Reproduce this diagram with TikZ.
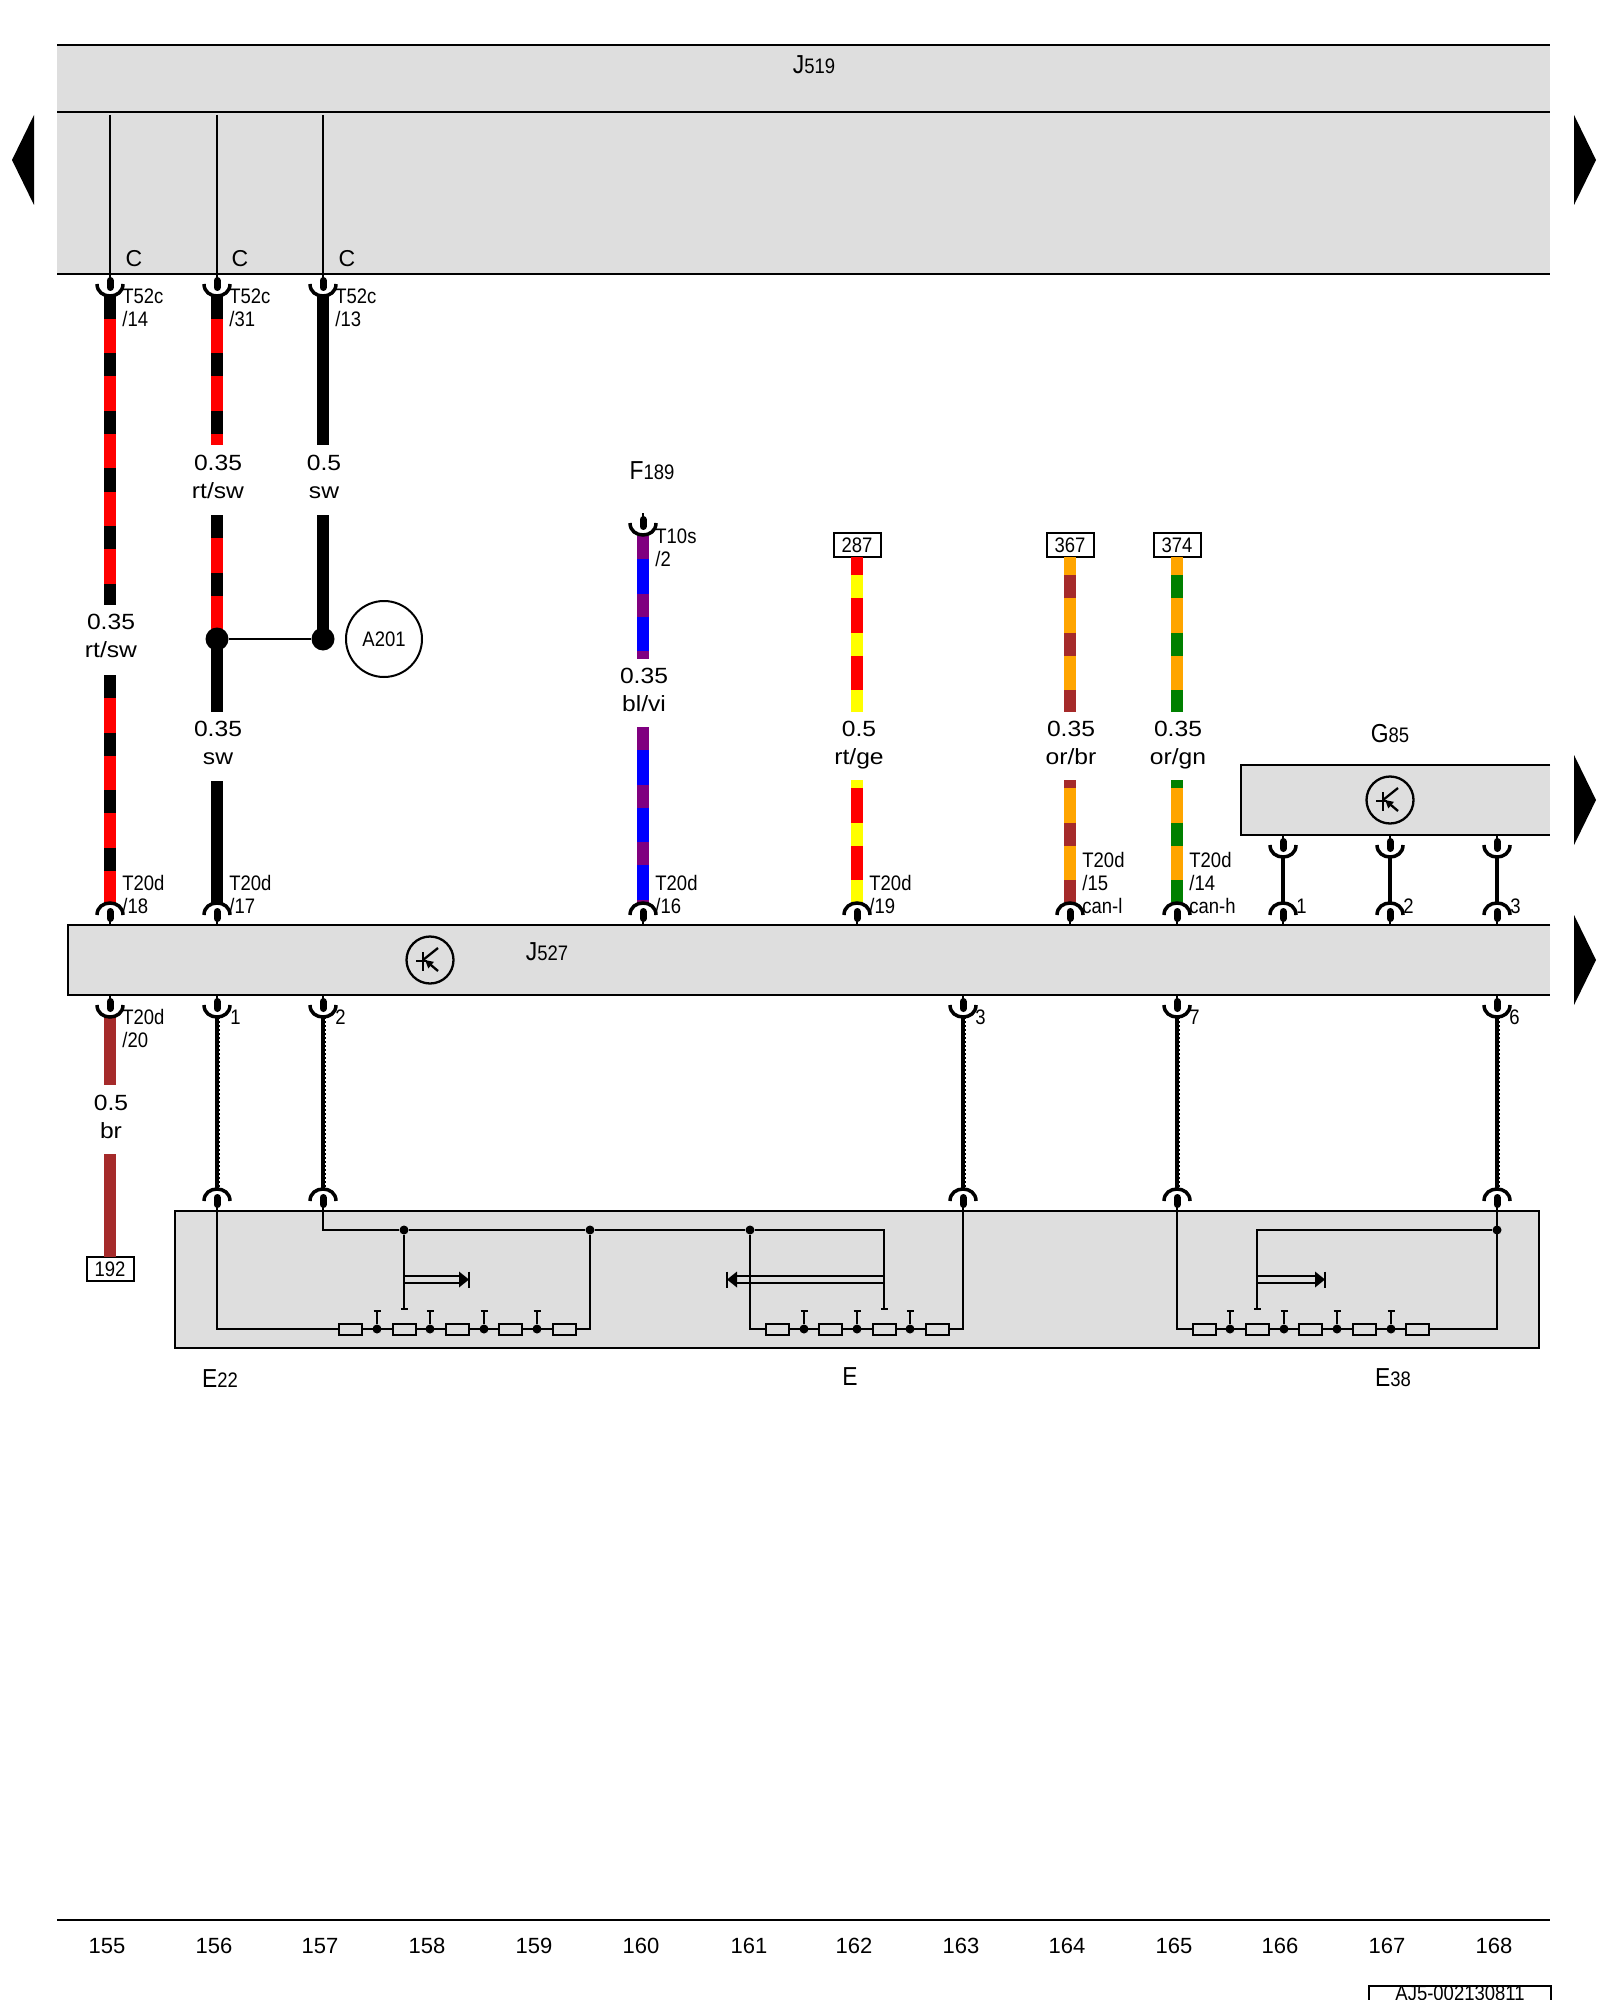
\documentclass[tikz,border=0pt]{standalone}
\usepackage{fontspec}
\setmainfont{Liberation Sans}
\newfontfamily\narrowfont[FakeStretch=0.88]{Liberation Sans}
\newfontfamily\wideface[FakeStretch=1.12]{Liberation Sans}
\usetikzlibrary{arrows.meta,positioning,calc}
\definecolor{bandgray}{HTML}{DEDEDE}
\definecolor{wred}{HTML}{FF0000}
\definecolor{wyellow}{HTML}{FFFF00}
\definecolor{worange}{HTML}{FFA500}
\definecolor{wbrown}{HTML}{A52A2A}
\definecolor{wgreen}{HTML}{008000}
\definecolor{wviolet}{HTML}{800080}
\definecolor{wblue}{HTML}{0000FF}
\newcommand{\stripewire}[5]{%
  \draw[wire,#3] (#1) -- (#2);
  \draw[wire,#4,dash pattern=on 11.5pt off 17.25pt,dash phase=#5pt] (#1) -- (#2);}
\newcommand{\bigsub}[2]{{\fontsize{13}{14}\selectfont #1}#2}
\newcommand{\gaugetext}[2]{#1\\#2\vphantom{g}}

\begin{document}
\begin{tikzpicture}[
  x=0.5pt, y=-0.5pt,
  band/.style={rectangle, fill=bandgray, anchor=north west, inner sep=0pt, outer sep=0pt},
  edge/.style={line width=1.25pt},
  inner/.style={line width=1.15pt},
  wire/.style={line width=5.7pt},
  short/.style={line width=1.75pt},
  twist/.style={line width=1.6pt},
  twistedge/.style={line width=2.5pt, dash pattern=on 1pt off 1pt},
  pinlbl/.style={font=\narrowfont\fontsize{10.5}{11.5}\selectfont, anchor=west, inner sep=0pt, align=left},
  gauge/.style={font=\wideface\fontsize{11}{14}\selectfont, inner sep=0pt, align=center},
  title/.style={font=\narrowfont\fontsize{10.5}{12}\selectfont, inner sep=0pt},
  colnum/.style={font=\fontsize{11}{13}\selectfont, inner sep=0pt},
  tag/.style={rectangle, draw, line width=1pt, fill=white, minimum width=23.5pt, minimum height=12pt, inner sep=0pt, outer sep=0pt, font=\narrowfont\fontsize{10.5}{12}\selectfont},
  bigdot/.style={circle, fill=black, minimum size=11.5pt, inner sep=0pt},
  dot/.style={circle, fill=black, minimum size=4.5pt, inner sep=0pt},
  res/.style={rectangle, draw, line width=1pt, minimum width=11.5pt, minimum height=5.5pt, inner sep=0pt, outer sep=0pt},
  stub/.style={inner, -{Bar[width=3.5pt,line width=1pt]}},
  tri/.style={fill=black},
  cup/.pic={
    \draw[inner] (0,0) -- (0,6);
    \draw[line width=3.5pt, line cap=round] (0,6.5) -- (0,13.5);
    \draw[line width=1.75pt] (-13,10) .. controls (-13,26) and (13,26) .. (13,10);
  },
  sensor/.pic={
    \draw[inner] (0,0) circle [radius=23.5];
    \draw[inner] (-7,-8) -- (-7,11);
    \draw[inner] (-14,1) -- (-3,1);
    \draw[inner] (-7,0) -- (8,-12);
    \draw[inner, -{Triangle[length=4pt,width=4pt]}] (8,11) -- (-5,0);
  },
  arm/.pic={
    \draw[inner] (0,-3.5) -- (#1,-3.5);
    \draw[inner] (0,3.5) -- (#1,3.5);
    \fill (#1,-8) -- (#1+10,0) -- (#1,8) -- cycle;
    \draw[inner] (#1+10,-8) -- (#1+10,8);
  }
]
  \useasboundingbox (0,0) rectangle (1600,2000);

  % control unit bands
  \node[band, minimum width=746.5pt, minimum height=33.5pt] (j519) at (57,45) {};
  \node[band, minimum width=746.5pt, minimum height=81pt] (j519low) at (57,112) {};
  \draw[edge] (j519.north west) -- (j519.north east);
  \draw[edge] (j519low.north west) -- (j519low.north east);
  \draw[edge] (j519low.south west) -- (j519low.south east);
  \node[title] (j519name) at (814,65) {\bigsub{J}{519}};

  \node[band, minimum width=741pt, minimum height=35pt] (j527) at (68,925) {};
  \draw[edge] (j527.north east) -- (j527.north west) -- (j527.south west) -- (j527.south east);
  \node[title] (j527name) at (547,952) {\bigsub{J}{527}};
  \pic at (430,960) {sensor};

  \node[band, minimum width=154.5pt, minimum height=35pt] (g85) at (1241,765) {};
  \draw[edge] (g85.north east) -- (g85.north west) -- (g85.south west) -- (g85.south east);
  \node[title] (g85name) at (1390,734) {\bigsub{G}{85}};
  \pic at (1390,800) {sensor};

  \node[band, draw, line width=1.25pt, minimum width=682pt, minimum height=68.5pt] (ebox) at (175,1211) {};

  % page arrows
  \fill[tri] (12,160) -- (34,115) -- (34,205) -- cycle;
  \fill[tri] (1596,160) -- (1574,115) -- (1574,205) -- cycle;
  \fill[tri] (1596,800) -- (1574,755) -- (1574,845) -- cycle;
  \fill[tri] (1596,960) -- (1574,915) -- (1574,1005) -- cycle;

  % upper connectors
  \foreach \n/\x in {a/110,b/217,c/323} {
    \coordinate (top\n) at (\x,115);
    \coordinate (pin\n) at (\x,274);
    \draw[inner] (top\n) -- (pin\n);
  }
  \node[font=\fontsize{11.5}{14}\selectfont, inner sep=0pt] (ca) at (134,259) {C};
  \node[font=\fontsize{11.5}{14}\selectfont, inner sep=0pt] (cb) at (240,259) {C};
  \node[font=\fontsize{11.5}{14}\selectfont, inner sep=0pt] (cc) at (347,259) {C};

  % wire ends
  \coordinate (wa1) at (110,296);
  \coordinate (wa2) at (110,605);
  \coordinate (wa3) at (110,675);
  \coordinate (wa4) at (110,903);
  \coordinate (wb1) at (217,296);
  \coordinate (wb2) at (217,445);
  \coordinate (wb3) at (217,515);
  \coordinate (wb4) at (217,639);
  \coordinate (wb5) at (217,712);
  \coordinate (wb6) at (217,781);
  \coordinate (wb7) at (217,903);
  \coordinate (wc1) at (323,296);
  \coordinate (wc2) at (323,445);
  \coordinate (wc3) at (323,515);
  \coordinate (wc4) at (323,639);
  \coordinate (wd1) at (110,1017);
  \coordinate (wd2) at (110,1085);
  \coordinate (wd3) at (110,1154);
  \coordinate (we1) at (643,536);
  \coordinate (we2) at (643,659);
  \coordinate (we3) at (643,727);
  \coordinate (we4) at (643,903);

  \stripewire{wa1}{wa2}{wred}{black}{0}
  \stripewire{wa3}{wa4}{wred}{black}{0}
  \stripewire{wb1}{wb2}{wred}{black}{0}
  \stripewire{wb3}{wb4}{wred}{black}{0}
  \draw[wire] (wb4) -- (wb5);
  \draw[wire] (wb6) -- (wb7);
  \draw[wire] (wc1) -- (wc2);
  \draw[wire] (wc3) -- (wc4);
  \draw[wire,wbrown] (wd1) -- (wd2);
  \stripewire{we1}{we2}{wblue}{wviolet}{0}
  \stripewire{we3}{we4}{wblue}{wviolet}{0}

  \node[tag] (t192) at (110,1269) {192};
  \draw[wire,wbrown] (wd3) -- (t192.north);

  % feeds from other pages
  \node[tag] (t287) at (857,545) {287};
  \node[tag] (t367) at (1070,545) {367};
  \node[tag] (t374) at (1177,545) {374};
  \foreach \n/\base/\band in {287/wred/wyellow,367/worange/wbrown,374/worange/wgreen} {
    \coordinate (lo\n) at ($(t\n.south)+(0,155)$);
    \coordinate (up\n) at ($(t\n.south)+(0,223)$);
    \coordinate (ch\n) at ($(t\n.south)+(0,345)$);
    \stripewire{t\n.south}{lo\n}{\base}{\band}{19.75}
    \stripewire{up\n}{ch\n}{\base}{\band}{7.5}
  }

  \node[bigdot] (ja) at (wb4) {};
  \node[bigdot] (jb) at (wc4) {};
  \draw[inner] (ja) -- (jb);
  \node[circle, draw, line width=1pt, minimum size=38pt, inner sep=0pt, font=\narrowfont\fontsize{10.5}{12}\selectfont] (a201) at (384,639) {A201};

  % connector forks
  \foreach \x in {110,217,323} { \pic at (\x,274) {cup}; }
  \pic at (643,513) {cup};
  \foreach \x in {110,217,643,857,1070,1177,1283,1390,1497} { \pic[yscale=-1] at (\x,925) {cup}; }
  \foreach \x in {110,217,323,963,1177,1497} { \pic at (\x,995) {cup}; }
  \foreach \x in {1283,1390,1497} { \pic at (\x,835) {cup}; }
  \foreach \x in {217,323,963,1177,1497} { \pic[yscale=-1] at (\x,1211) {cup}; }

  % links G85 to J527 and bus pairs
  \foreach \n/\x in {a/1283,b/1390,c/1497} {
    \coordinate (ga\n) at (\x,857);
    \coordinate (gb\n) at (\x,903);
    \draw[short] (ga\n) -- (gb\n);
  }
  \foreach \n/\x in {a/217,b/323,c/963,d/1177,e/1497} {
    \coordinate (ba\n) at (\x,1017);
    \coordinate (bb\n) at (\x,1189);
    \draw[twist] (ba\n) -- (bb\n);
    \draw[twistedge] (ba\n) -- (bb\n);
  }

  % pin labels
  \node[pinlbl] (p14) at (122,308) {T52c\\/14};
  \node[pinlbl] (p31) at (229,308) {T52c\\/31};
  \node[pinlbl] (p13) at (335,308) {T52c\\/13};
  \node[pinlbl] (p18) at (122,894) {T20d\\/18};
  \node[pinlbl] (p17) at (229,894) {T20d\\/17};
  \node[pinlbl] (p16) at (655,894) {T20d\\/16};
  \node[pinlbl] (p19) at (869,894) {T20d\\/19};
  \node[pinlbl] (p15) at (1082,883) {T20d\\/15\\can-l};
  \node[pinlbl] (p14b) at (1189,883) {T20d\\/14\\can-h};
  \node[pinlbl] (p20) at (122,1028) {T20d\\/20};
  \node[pinlbl] (p2s) at (655,548) {T10s\\/2};
  \node[pinlbl] (g1) at (1296,906) {1};
  \node[pinlbl] (g2) at (1403,906) {2};
  \node[pinlbl] (g3) at (1510,906) {3};
  \node[pinlbl] (b1) at (230,1017) {1};
  \node[pinlbl] (b2) at (335,1017) {2};
  \node[pinlbl] (b3) at (975,1017) {3};
  \node[pinlbl] (b7) at (1189,1017) {7};
  \node[pinlbl] (b6) at (1509,1017) {6};

  % wire gauges
  \node[gauge] (ga1) at (111,638) {\gaugetext{0.35}{rt/sw}};
  \node[gauge] (ga2) at (218,479) {\gaugetext{0.35}{rt/sw}};
  \node[gauge] (ga3) at (324,479) {\gaugetext{0.5}{sw}};
  \node[gauge] (ga4) at (218,745) {\gaugetext{0.35}{sw}};
  \node[gauge] (ga5) at (111,1119) {\gaugetext{0.5}{br}};
  \node[gauge] (ga6) at (644,692) {\gaugetext{0.35}{bl/vi}};
  \node[gauge] (ga7) at (859,745) {\gaugetext{0.5}{rt/ge}};
  \node[gauge] (ga8) at (1071,745) {\gaugetext{0.35}{or/br}};
  \node[gauge] (ga9) at (1178,745) {\gaugetext{0.35}{or/gn}};
  \node[title] (f189) at (652,471) {\bigsub{F}{189}};

  % first switch
  \node[res] (ra1) at (350.5,1329) {};
  \node[res] (ra2) at (404,1329) {};
  \node[res] (ra3) at (457,1329) {};
  \node[res] (ra4) at (510.5,1329) {};
  \node[res] (ra5) at (564,1329) {};
  \node[dot] (da0) at (404,1230) {};
  \node[dot] (da9) at (590,1230) {};
  \coordinate (ea1) at (217,1211);
  \coordinate (ea2) at (323,1211);
  \draw[inner] (ea1) |- (ra1.west);
  \draw[inner] (ra5.east) -| (da9);
  \draw[inner] (ea2) |- (da0);
  \draw[stub] (da0) -- (404,1310);
  \pic at (404,1279.5) {arm=55};

  % middle switch
  \node[res] (rb1) at (777,1329) {};
  \node[res] (rb2) at (830.5,1329) {};
  \node[res] (rb3) at (884,1329) {};
  \node[res] (rb4) at (937,1329) {};
  \node[dot] (db0) at (750,1230) {};
  \coordinate (eb1) at (963,1211);
  \draw[inner] (da0) -- (da9) -- (db0);
  \draw[inner] (db0) |- (rb1.west);
  \draw[inner] (rb4.east) -| (eb1);
  \draw[stub] (db0) -| (884,1310);
  \pic[xscale=-1] at (884,1279.5) {arm=147};

  % last switch
  \node[res] (rc1) at (1204,1329) {};
  \node[res] (rc2) at (1257,1329) {};
  \node[res] (rc3) at (1310.5,1329) {};
  \node[res] (rc4) at (1364,1329) {};
  \node[res] (rc5) at (1417,1329) {};
  \node[dot] (dc0) at (1497,1230) {};
  \coordinate (ec1) at (1177,1211);
  \coordinate (ec2) at (1497,1211);
  \draw[inner] (ec1) |- (rc1.west);
  \draw[inner] (rc5.east) -| (ec2);
  \draw[stub] (dc0) -| (1257,1310);
  \pic at (1257,1279.5) {arm=58};

  % resistor ladders, taps between the resistors
  \foreach \a/\b/\x in {ra1/ra2/377,ra2/ra3/430,ra3/ra4/484,ra4/ra5/537,
                        rb1/rb2/804,rb2/rb3/857,rb3/rb4/910,
                        rc1/rc2/1230,rc2/rc3/1284,rc3/rc4/1337,rc4/rc5/1391} {
    \draw[inner] (\a.east) -- (\b.west);
    \node[dot] (tap\a) at (\x,1329) {};
    \draw[stub] (tap\a) -- (\x,1310);
  }

  \node[title] (e22) at (220,1379) {\bigsub{E}{22}};
  \node[title] (e0) at (850,1377) {\bigsub{E}{}};
  \node[title] (e38) at (1393,1378) {\bigsub{E}{38}};

  % page footer
  \coordinate (foota) at (57,1920);
  \coordinate (footb) at (1550,1920);
  \draw[edge] (foota) -- (footb);
  \foreach \n/\x in {155/107,156/214,157/320,158/427,159/534,160/641,161/749,162/854,163/961,164/1067,165/1174,166/1280,167/1387,168/1494} {
    \node[colnum] (col\n) at (\x,1946) {\n};
  }
  \node[rectangle, draw, line width=1pt, anchor=north west, minimum width=91pt, minimum height=20pt, inner sep=0pt, font=\narrowfont\fontsize{10.5}{12}\selectfont, text depth=13pt] (docid) at (1368,1985) {AJ5-002130811};
\end{tikzpicture}
\end{document}
